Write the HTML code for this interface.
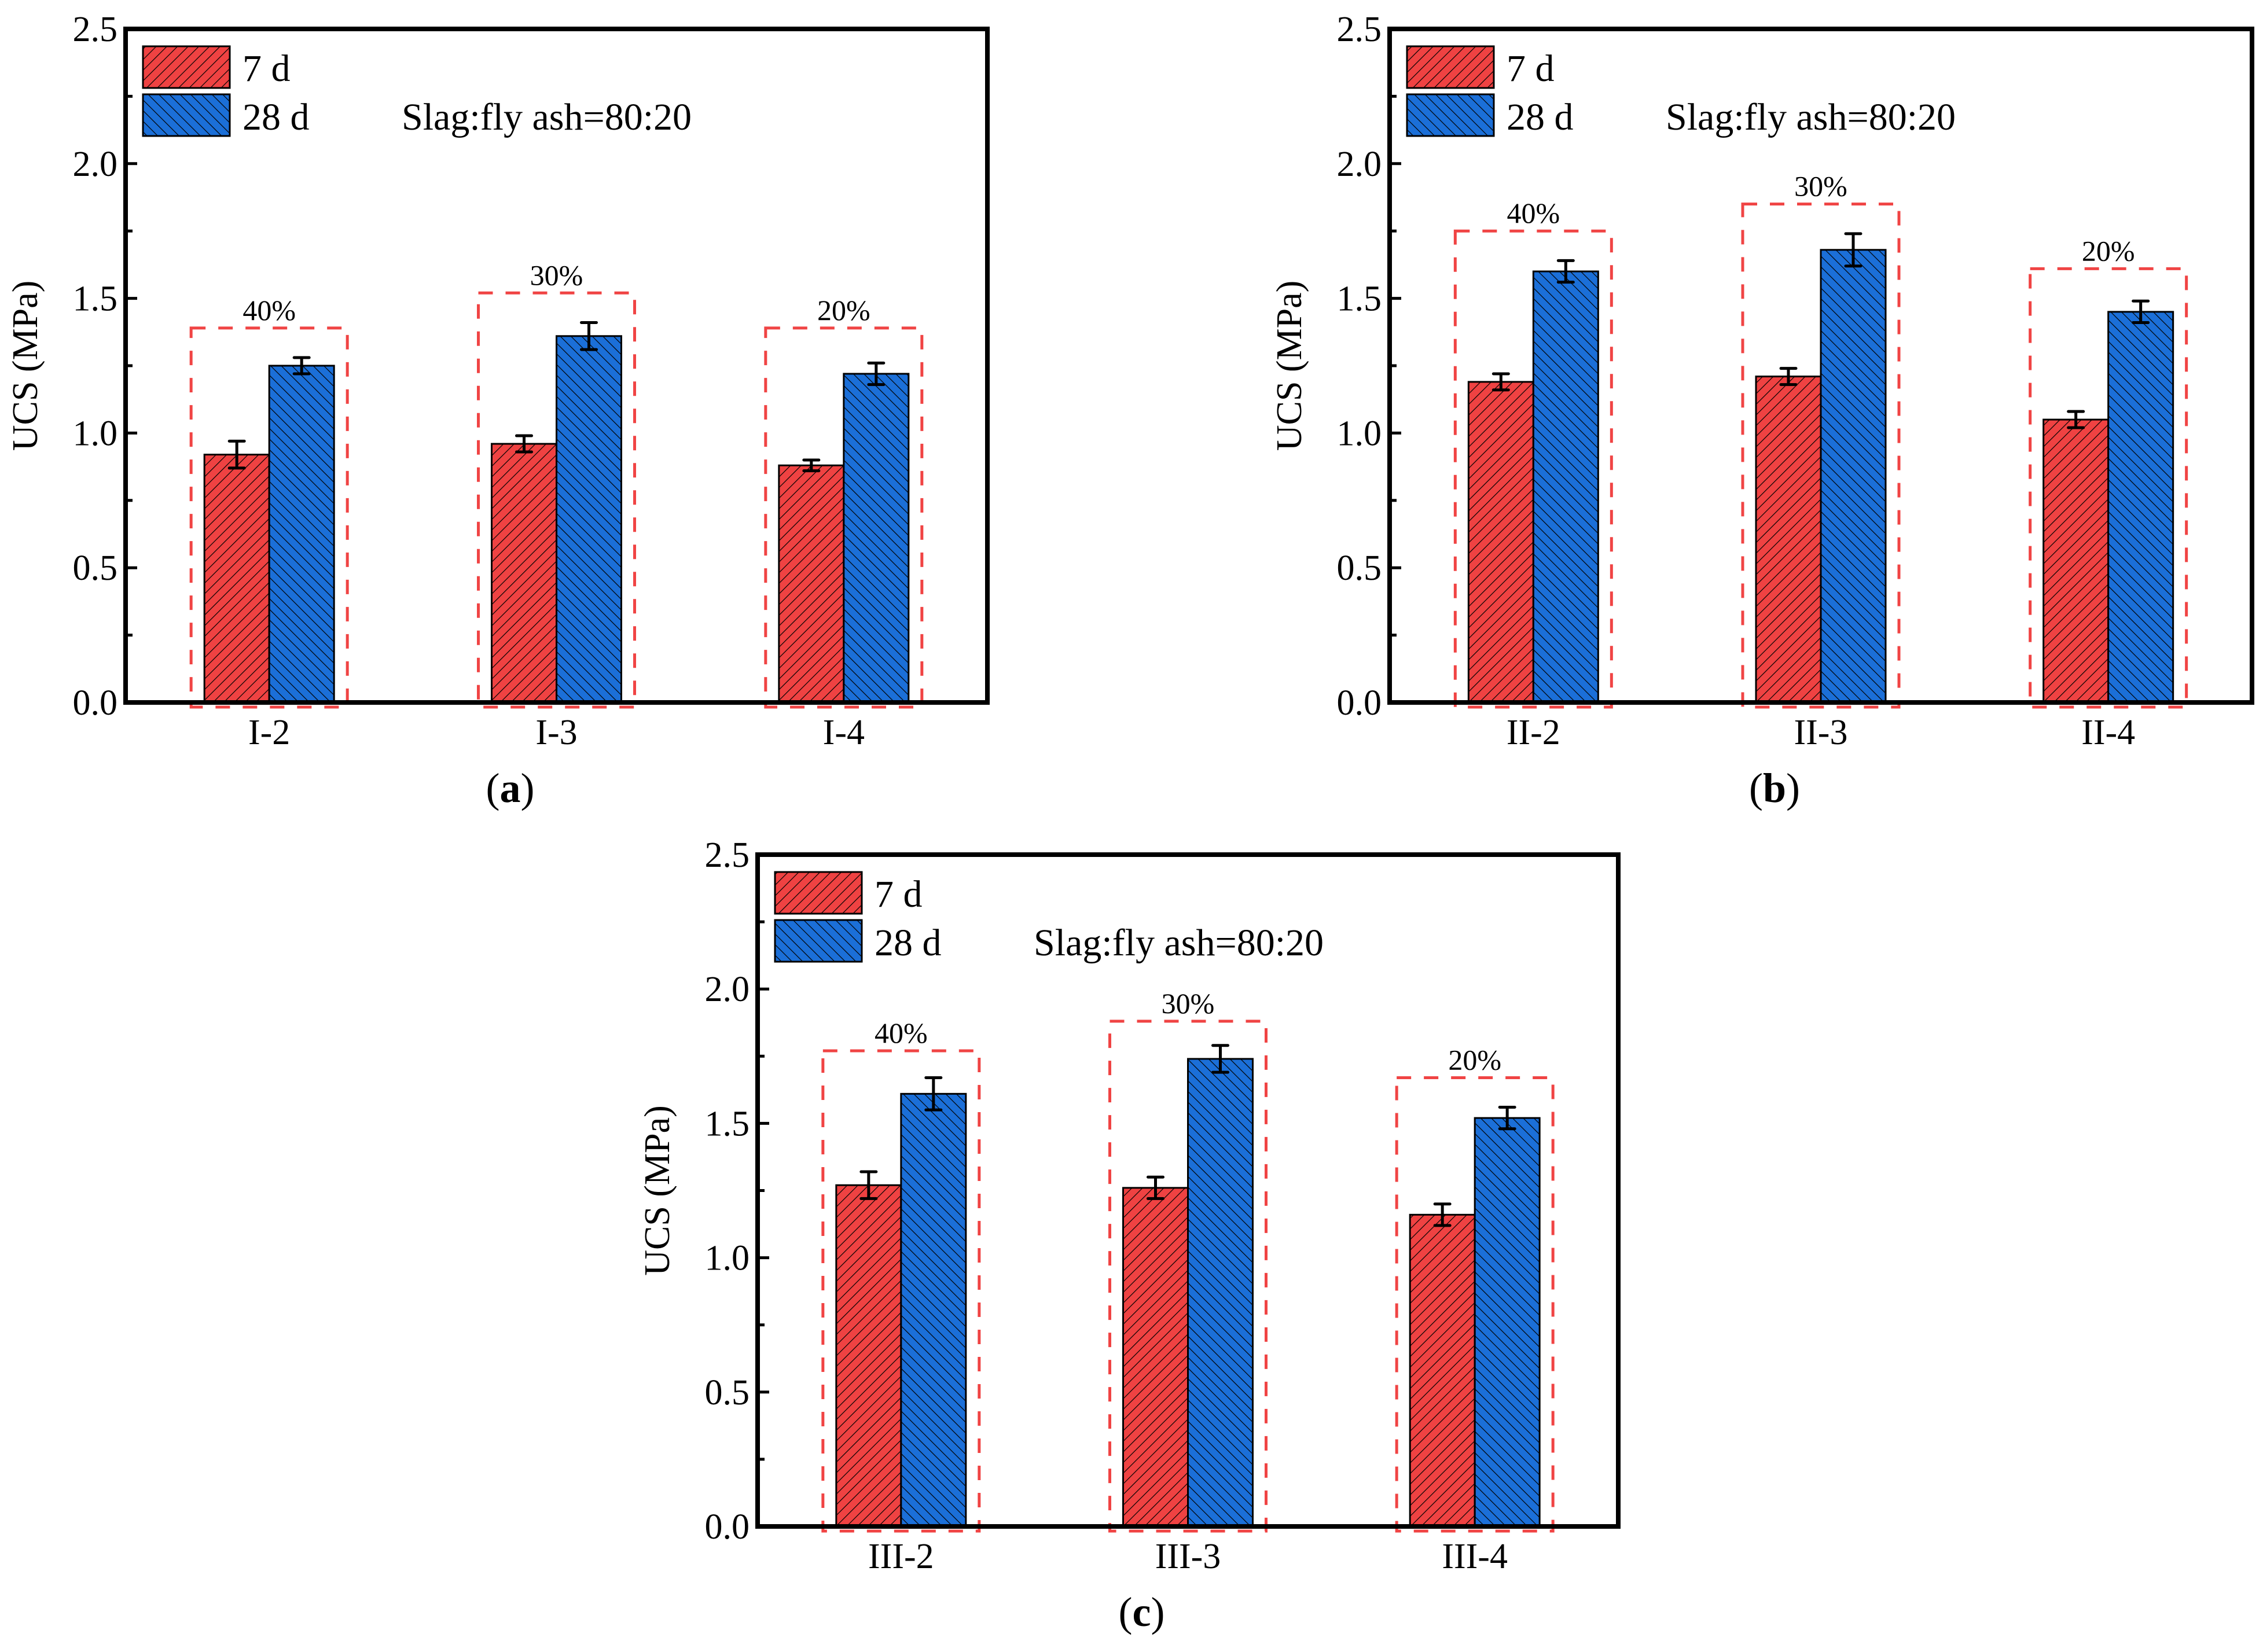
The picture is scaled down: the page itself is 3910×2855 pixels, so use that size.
<!DOCTYPE html>
<html><head><meta charset="utf-8"><style>
html,body{margin:0;padding:0;background:#fff}
svg{display:block}
svg text{font-family:"Liberation Serif","Times New Roman",serif}
</style></head><body>
<svg id="fig" width="3910" height="2855" viewBox="0 0 3910 2855" xmlns="http://www.w3.org/2000/svg" font-family="Liberation Serif, serif">
<defs>
<pattern id="hatchR" patternUnits="userSpaceOnUse" width="13" height="13" patternTransform="rotate(45)">
<rect width="13" height="13" fill="#ef4242"/><line x1="0" y1="0" x2="0" y2="13" stroke="#000" stroke-width="2.4"/></pattern>
<pattern id="hatchB" patternUnits="userSpaceOnUse" width="13" height="13" patternTransform="rotate(-45)">
<rect width="13" height="13" fill="#1b6fd8"/><line x1="0" y1="0" x2="0" y2="13" stroke="#000" stroke-width="2.4"/></pattern>
</defs>
</svg>
<script>
const catsA=["I-2","I-3","I-4"];
const d7A=[0.92,0.96,0.88];const e7A=[0.05,0.03,0.02];
const d28A=[1.25,1.36,1.22];const e28A=[0.03,0.05,0.04];
const boxA=[1.39,1.52,1.39];
const catsB=["II-2","II-3","II-4"];
const d7B=[1.19,1.21,1.05];const e7B=[0.03,0.03,0.03];
const d28B=[1.60,1.68,1.45];const e28B=[0.04,0.06,0.04];
const boxB=[1.75,1.85,1.61];
const catsC=["III-2","III-3","III-4"];
const d7C=[1.27,1.26,1.16];const e7C=[0.05,0.04,0.04];
const d28C=[1.61,1.74,1.52];const e28C=[0.06,0.05,0.04];
const boxC=[1.77,1.88,1.67];
const pctLabels=["40%","30%","20%"];
const yTicks=["0.0","0.5","1.0","1.5","2.0","2.5"];
const NS="http://www.w3.org/2000/svg";
const svg=document.getElementById('fig');
const FF='Liberation Serif, Times New Roman, serif';
function mk(tag,attrs,parent,text){const e=document.createElementNS(NS,tag);for(const k in attrs)e.setAttribute(k,attrs[k]);if(tag==='text')e.setAttribute('font-family',FF);if(text!==undefined)e.textContent=text;(parent||svg).appendChild(e);return e;}
function panel(id,L,R,T,B,cats,d7,e7,d28,e28,box,letter){
  const g=mk('g',{});
  
  
  const W=R-L;
  const y=v=>B-v/2.5*(B-T);
  const xc=i=>L+W*(1+2*i)/6;
  const bw=112;
  for(let i=0;i<cats.length;i++){
    const c=xc(i);
    const r1=mk('rect',{x:c-bw,y:y(d7[i]),width:bw,height:B-y(d7[i]),fill:'url(#hatchR)',stroke:'#000','stroke-width':3},g);
    
    
    const r2=mk('rect',{x:c,y:y(d28[i]),width:bw,height:B-y(d28[i]),fill:'url(#hatchB)',stroke:'#000','stroke-width':3},g);
    
    
    [[c-bw/2,d7[i],e7[i]],[c+bw/2,d28[i],e28[i]]].forEach(([x,v,e])=>{
      const eb=mk('path',{d:`M${x},${y(v+e)}V${y(v-e)}M${x-13},${y(v+e)}H${x+13}M${x-13},${y(v-e)}H${x+13}`,stroke:'#000','stroke-width':5,fill:'none','stroke-linecap':'round'},g);
      
      
    });
    const bx=mk('rect',{x:c-bw-23,y:y(box[i]),width:2*bw+46,height:B+8-y(box[i]),fill:'none',stroke:'#f04444','stroke-width':5,'stroke-dasharray':'25 22'},g);
    
    
    const pl=mk('text',{x:c,y:y(box[i])-14,'font-size':50,'text-anchor':'middle'},g,pctLabels[i]);
    
    
    const xl=mk('text',{x:c,y:B+72,'font-size':62,'text-anchor':'middle'},g,cats[i]);
    
    
  }
  for(let k=0;k<=10;k++){
    const v=k*0.25,yy=y(v);
    mk('line',{x1:L,x2:L+(k%2==0?20:12),y1:yy,y2:yy,stroke:'#000','stroke-width':5},g);
    if(k%2==0){const t=mk('text',{x:L-14,y:yy+21,'font-size':62,'text-anchor':'end'},g,yTicks[k/2]);
      
      }
  }
  const fr=mk('rect',{x:L,y:T,width:W,height:B-T,fill:'none',stroke:'#000','stroke-width':8},g);
  
  
  const yt=mk('text',{transform:`translate(${L-153},${(T+B)/2}) rotate(-90)`,'font-size':62,'text-anchor':'middle'},g,'UCS (MPa)');
  
  
  const l1=mk('rect',{x:L+30,y:T+30,width:150,height:72,fill:'url(#hatchR)',stroke:'#000','stroke-width':3},g);
  
  
  const l2=mk('rect',{x:L+30,y:T+113,width:150,height:72,fill:'url(#hatchB)',stroke:'#000','stroke-width':3},g);
  
  
  const t1=mk('text',{x:L+202,y:T+90,'font-size':66},g,'7 d');
  
  
  const t2=mk('text',{x:L+202,y:T+174,'font-size':66},g,'28 d');
  
  
  const t3=mk('text',{x:L+477,y:T+174,'font-size':66},g,'Slag:fly ash=80:20');
  
  
  const pt=mk('text',{x:(L+R)/2-80,y:B+172,'font-size':72,'text-anchor':'middle'},g);
  
  
  mk('tspan',{},pt,'(');mk('tspan',{'font-weight':'bold'},pt,letter);mk('tspan',{},pt,')');
}
panel('a',217,1706,50,1214,catsA,d7A,e7A,d28A,e28A,boxA,'a');
panel('b',2401,3891,50,1214,catsB,d7B,e7B,d28B,e28B,boxB,'b');
panel('c',1309,2796,1477,2638,catsC,d7C,e7C,d28C,e28C,boxC,'c');
</script>
</body></html>
